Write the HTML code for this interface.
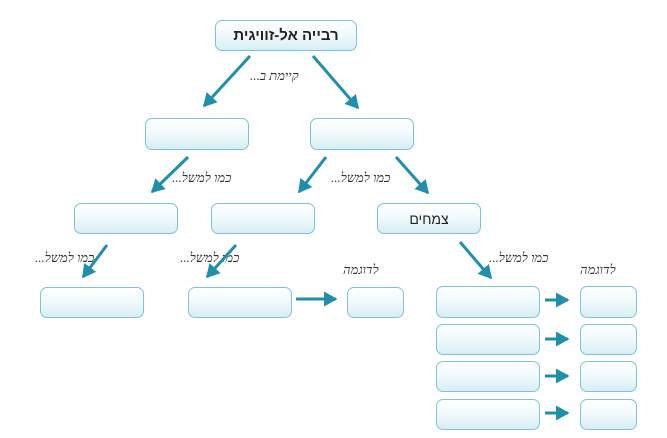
<!DOCTYPE html>
<html><head><meta charset="utf-8"><style>
body{margin:0;width:667px;height:438px;background:#fff;position:relative;overflow:hidden;font-family:"Liberation Sans",sans-serif}
.b{position:absolute;box-sizing:border-box;border:1.5px solid #7cc3d8;border-radius:7px;background:linear-gradient(#fff 0%,#f2fafc 45%,#d6eef5 100%);display:flex;align-items:center;justify-content:center;direction:rtl;color:#222}
.l{position:absolute;font-style:italic;font-size:13px;color:#333;direction:rtl;white-space:nowrap;font-family:"Liberation Serif",serif}
</style></head><body>
<div class="b" style="left:215px;top:20px;width:142px;height:31px;font-weight:bold;font-size:15px">רבייה אל-זוויגית</div>
<div class="b" style="left:145px;top:118px;width:104px;height:32px"></div>
<div class="b" style="left:310px;top:118px;width:104px;height:32px"></div>
<div class="b" style="left:74px;top:203px;width:104px;height:31px"></div>
<div class="b" style="left:211px;top:203px;width:104px;height:31px"></div>
<div class="b" style="left:377px;top:203px;width:104px;height:31px;font-size:14px">צמחים</div>
<div class="b" style="left:40px;top:287px;width:104px;height:31px"></div>
<div class="b" style="left:188px;top:287px;width:104px;height:31px"></div>
<div class="b" style="left:347px;top:287px;width:57px;height:31px"></div>
<div class="b" style="left:436px;top:286px;width:104px;height:32px"></div>
<div class="b" style="left:436px;top:324px;width:104px;height:31px"></div>
<div class="b" style="left:436px;top:361px;width:104px;height:31px"></div>
<div class="b" style="left:436px;top:399px;width:104px;height:31px"></div>
<div class="b" style="left:580px;top:286px;width:57px;height:32px"></div>
<div class="b" style="left:580px;top:324px;width:57px;height:31px"></div>
<div class="b" style="left:580px;top:361px;width:57px;height:31px"></div>
<div class="b" style="left:580px;top:399px;width:57px;height:31px"></div>
<div class="l" style="left:250px;top:68px">קיימת ב...</div>
<div class="l" style="left:172px;top:170px">כמו למשל...</div>
<div class="l" style="left:331px;top:170px">כמו למשל...</div>
<div class="l" style="left:35px;top:250px">כמו למשל...</div>
<div class="l" style="left:180px;top:250px">כמו למשל...</div>
<div class="l" style="left:489px;top:250px">כמו למשל...</div>
<div class="l" style="left:343px;top:262px">לדוגמה</div>
<div class="l" style="left:580px;top:262px">לדוגמה</div>
<svg width="667" height="438" style="position:absolute;left:0;top:0">
<defs><marker id="a" markerWidth="6" markerHeight="6" refX="4" refY="3" orient="auto" markerUnits="strokeWidth"><path d="M0,0.5 L4.5,3 L0,5.5 z" fill="#1f8fab"/></marker></defs>
<g stroke="#1f8fab" stroke-width="3" marker-end="url(#a)">
<line x1="250" y1="56" x2="204" y2="106"/>
<line x1="313" y1="56" x2="358" y2="108"/>
<line x1="188" y1="157" x2="152" y2="192"/>
<line x1="326" y1="157" x2="299" y2="192"/>
<line x1="396" y1="157" x2="428" y2="193"/>
<line x1="107" y1="245" x2="83" y2="277"/>
<line x1="236" y1="245" x2="207" y2="277"/>
<line x1="460" y1="242" x2="491" y2="278"/>
<line x1="296" y1="299" x2="336" y2="299"/>
<line x1="545" y1="300" x2="568" y2="300"/>
<line x1="545" y1="339" x2="568" y2="339"/>
<line x1="545" y1="376" x2="568" y2="376"/>
<line x1="545" y1="413" x2="568" y2="413"/>
</g></svg>
</body></html>
